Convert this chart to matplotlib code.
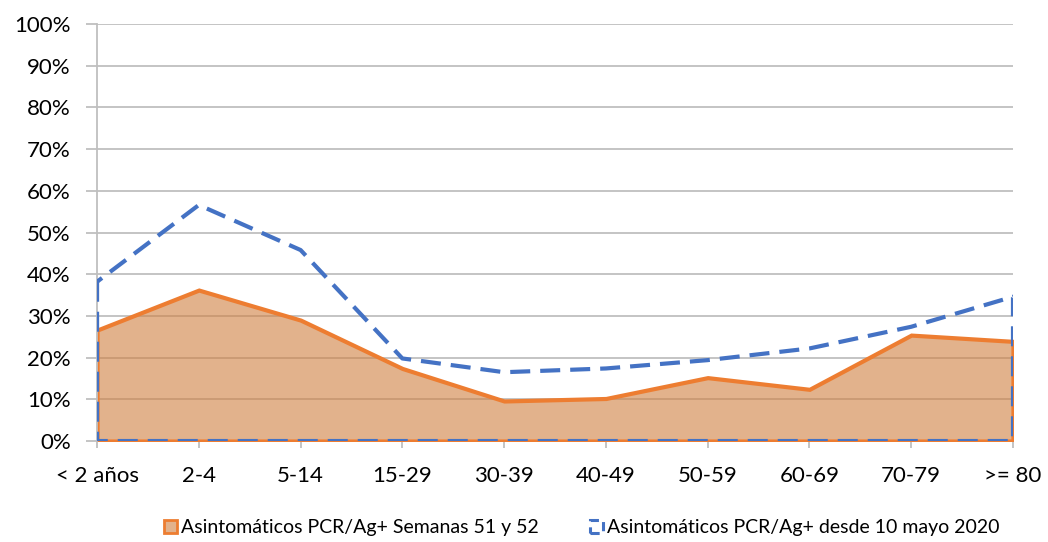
import matplotlib
matplotlib.use("Agg")
import matplotlib.pyplot as plt
from matplotlib.patches import Patch
from matplotlib.ticker import FuncFormatter
import numpy as np

categories = ["< 2 años", "2-4", "5-14", "15-29", "30-39", "40-49", "50-59", "60-69", "70-79", ">= 80"]
semanas_51_52 = [26.6, 36.2, 29.0, 17.4, 9.6, 10.2, 15.2, 12.4, 25.4, 23.9]
desde_mayo = [38.2, 56.6, 45.8, 19.8, 16.5, 17.4, 19.4, 22.2, 27.4, 34.6]
label_orange = "Asintomáticos PCR/Ag+ Semanas 51 y 52"
label_blue = "Asintomáticos PCR/Ag+ desde 10 mayo 2020"

plt.rcParams['font.family'] = ['Lato', 'DejaVu Sans']

fig = plt.figure(figsize=(10.48, 5.42), dpi=100)
ax = fig.add_axes([0.0926, 0.1863, 0.8740, 0.7694])

x = np.arange(len(categories))
orange = '#ED7D31'
blue = '#4472C4'
grid_c = '#BFBFBF'
fill_c = (0.816, 0.5, 0.25, 0.6)

ax.set_axisbelow(True)
ax.yaxis.grid(True, color=grid_c, linewidth=1.3)

ax.fill_between(x, 0, semanas_51_52, facecolor=fill_c,
                edgecolor=orange, linewidth=3.0, joinstyle='miter', zorder=2)
ax.fill_between(x, 0, desde_mayo, facecolor='none', edgecolor=blue,
                linewidth=3.0, linestyle=(0, (4.8, 2.4)), zorder=3)

ax.set_xlim(0, len(categories) - 1)
ax.set_ylim(0, 100)
ax.set_yticks(np.arange(0, 101, 10))
ax.yaxis.set_major_formatter(FuncFormatter(lambda v, p: f"{int(v)}%"))
ax.set_xticks(x)
ax.set_xticklabels(categories)

for s in ['top', 'right', 'bottom']:
    ax.spines[s].set_visible(False)
ax.spines['left'].set_color(grid_c)
ax.spines['left'].set_linewidth(1.3)

ax.tick_params(axis='y', length=8, width=1.3, color=grid_c, pad=11, labelsize=16, labelcolor='black')
ax.tick_params(axis='x', length=5, width=1.3, color=grid_c, pad=13, labelsize=16, labelcolor='black')

handles = [
    Patch(facecolor=fill_c, edgecolor=orange, linewidth=2, label=label_orange),
    Patch(facecolor='none', edgecolor=blue, linewidth=2.2, linestyle=(0, (3, 2)), label=label_blue),
]
fig.legend(handles=handles, loc='center', bbox_to_anchor=(0.555, 0.026), ncol=2,
           frameon=False, fontsize=14, handlelength=0.7, handleheight=0.7,
           handletextpad=0.2, columnspacing=2.6)

fig.savefig("out.png", dpi=100)
